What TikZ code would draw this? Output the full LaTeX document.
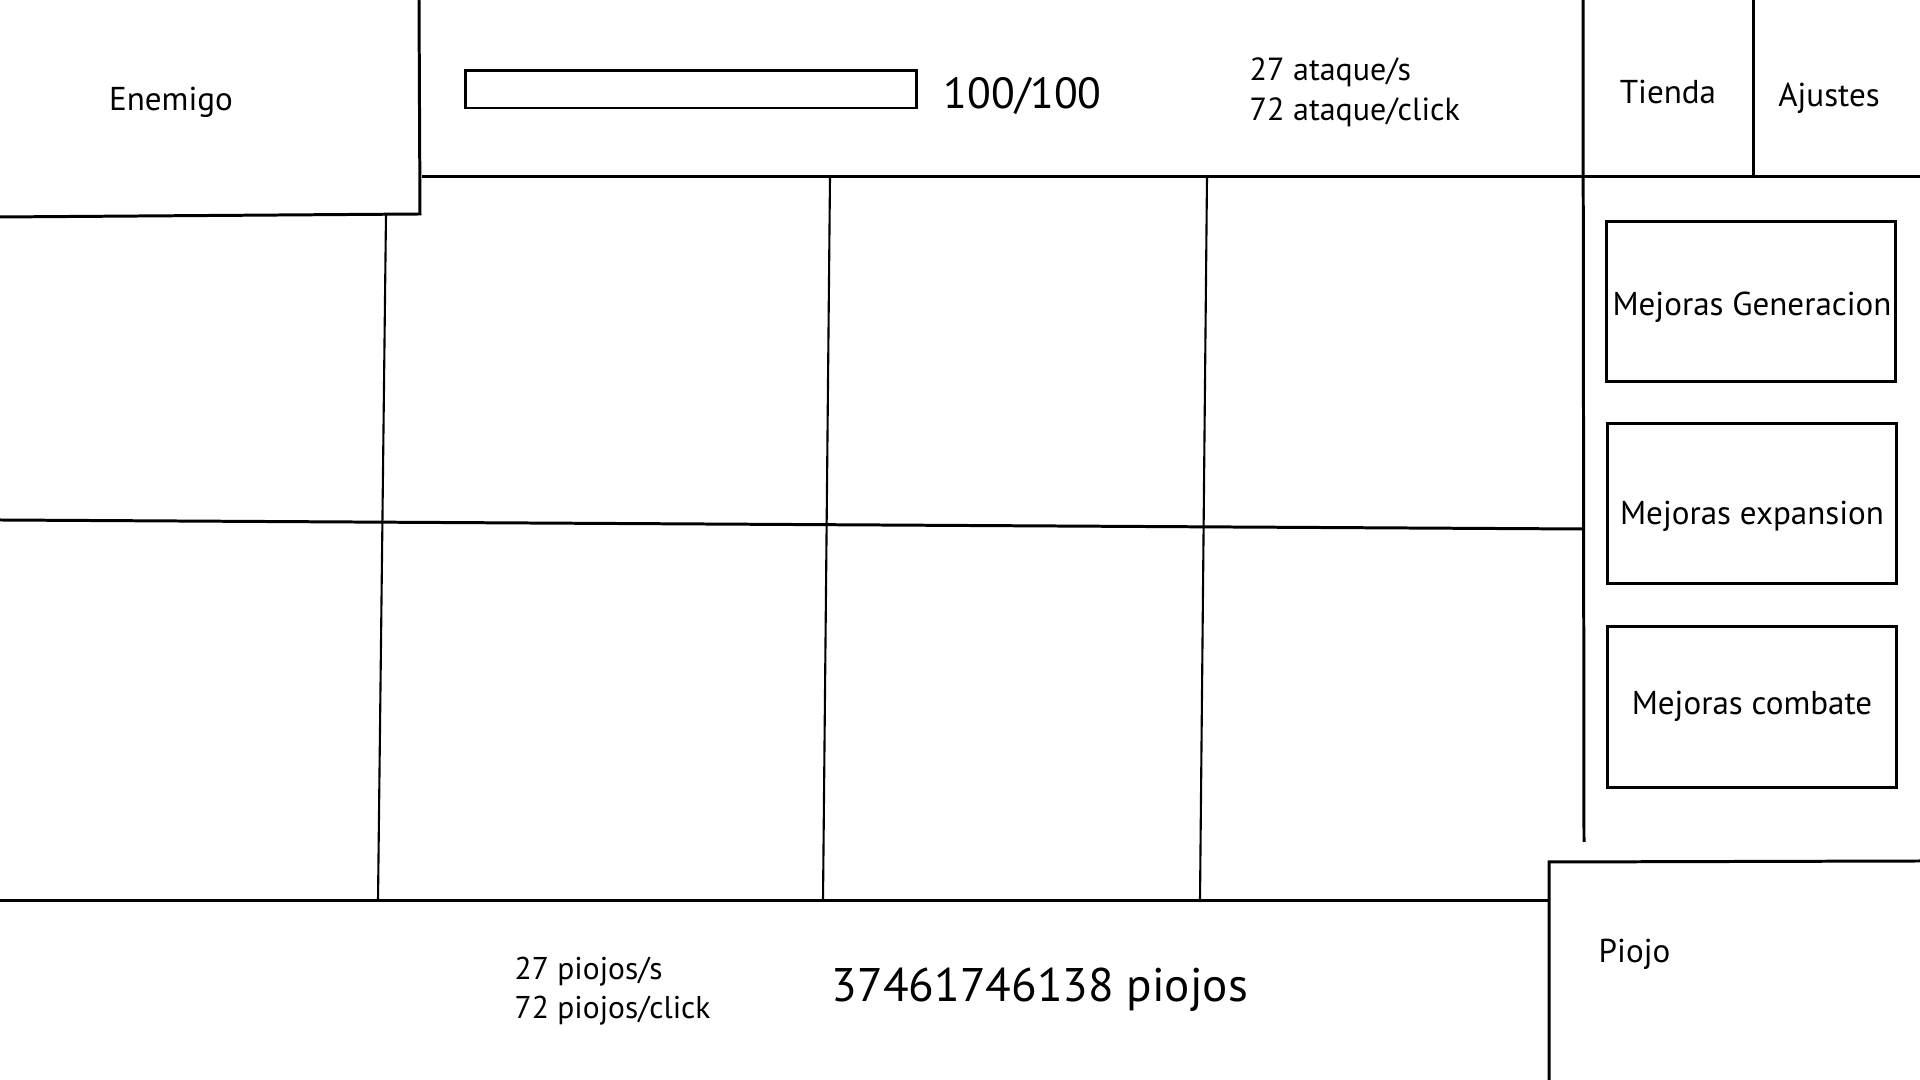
\documentclass[tikz,border=0pt]{standalone}
\usepackage{fontspec}
\setmainfont{PT Sans}
\begin{document}
\begin{tikzpicture}[x=0.01cm,y=-0.01cm,
  wire/.style={line width=0.85pt},
  gridline/.style={line width=0.6pt},
  panel/.style={draw, line width=0.85pt, inner sep=0pt, minimum width=2.88cm, minimum height=1.59cm},
  lbl/.style={inner sep=0pt, font=\fontsize{9.4}{11}\selectfont},
  statlbl/.style={inner sep=0pt, font=\fontsize{9.1}{11}\selectfont},
  biglbl/.style={inner sep=0pt, font=\fontsize{13.4}{16}\selectfont}]
\useasboundingbox (0,0) rectangle (1920,1080);
\fill[white] (0,0) rectangle (1920,1080);

% frame lines
\draw[wire] (419,0) -- (420,214) -- (0,217);
\draw[wire] (422,177) -- (1920,177);
\draw[wire] (1583,0) -- (1584,842);
\draw[wire] (1753,0) -- (1753,177);
\draw[wire] (0,520) -- (1582,529);
\draw[gridline] (386,214) -- (378,901);
\draw[gridline] (830,177) -- (823,901);
\draw[gridline] (1207,177) -- (1200,901);
\draw[wire] (0,901) -- (1549,901);
\draw[wire] (1549,1080) -- (1549,862) -- (1920,861);

% health bar
\node[draw, line width=0.85pt, inner sep=0pt, minimum width=4.5cm, minimum height=0.37cm] (hp) at (691,89.5) {};
\node[biglbl, font=\fontsize{12.4}{15}\selectfont, anchor=base west] (hptext) at (943,109) {100/100};

% texts
\node[lbl, anchor=base] (enemigo) at (171,111) {Enemigo};
\node[statlbl, anchor=base west] (atk1) at (1249,81) {27 ataque/s};
\node[statlbl, anchor=base west] (atk2) at (1249,121) {72 ataque/click};
\node[lbl, anchor=base] (tienda) at (1668,104) {Tienda};
\node[lbl, anchor=base] (ajustes) at (1829,107) {Ajustes};

% upgrade panels
\node[panel] (mgen) at (1751,301.5) {};
\node[panel] (mexp) at (1752,503.5) {};
\node[panel, minimum height=1.60cm] (mcomb) at (1752,707) {};
\node[lbl, anchor=base] (tgen) at (1752,316) {Mejoras Generacion};
\node[lbl, anchor=base] (texp) at (1752,525) {Mejoras expansion};
\node[lbl, anchor=base] (tcomb) at (1752,715) {Mejoras combate};

% bottom
\node[lbl, anchor=base west] (piojo) at (1598,963) {Piojo};
\node[statlbl, font=\fontsize{8.95}{11}\selectfont, anchor=base west] (ps1) at (514,980) {27 piojos/s};
\node[statlbl, font=\fontsize{8.95}{11}\selectfont, anchor=base west] (ps2) at (514,1019) {72 piojos/click};
\node[biglbl, anchor=base west] (total) at (831,1002) {37461746138 piojos};
\end{tikzpicture}
\end{document}
